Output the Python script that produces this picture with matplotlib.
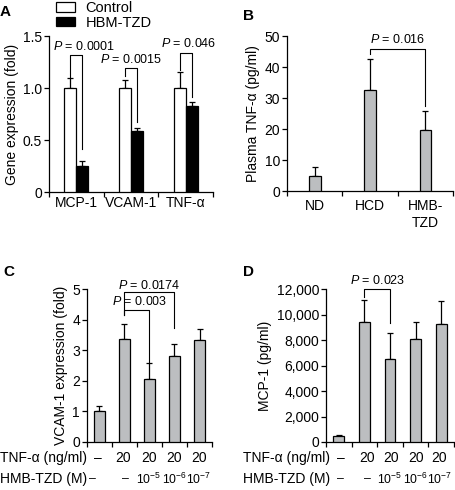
import matplotlib
matplotlib.use('Agg')
import matplotlib.pyplot as plt
import numpy as np

plt.rcParams['font.family'] = ['Liberation Sans', 'DejaVu Sans']
plt.rcParams['mathtext.fontset'] = 'custom'
plt.rcParams['mathtext.rm'] = 'Liberation Sans'
plt.rcParams['mathtext.it'] = 'Liberation Sans:italic'
plt.rcParams['axes.linewidth'] = 0.9
plt.rcParams['xtick.direction'] = 'out'
plt.rcParams['ytick.direction'] = 'out'

# panel A data
genes = ['MCP-1', 'VCAM-1', 'TNF-α']
ctrl_mean = [1.0, 1.0, 1.0]
ctrl_err = [0.10, 0.08, 0.15]
hbm_mean = [0.25, 0.59, 0.83]
hbm_err = [0.05, 0.03, 0.04]
pvals_a = ['0.0001', '0.0015', '0.046']

# panel B data
groups_b = ['ND', 'HCD', 'HMB-\nTZD']
tnf_mean = [4.8, 32.5, 19.8]
tnf_err = [3.0, 10.0, 6.0]

# panel C data
vcam_mean = [1.02, 3.38, 2.05, 2.80, 3.33]
vcam_err = [0.15, 0.48, 0.52, 0.42, 0.35]

# panel D data
mcp_mean = [480, 9400, 6500, 8100, 9250]
mcp_err = [80, 1750, 2050, 1300, 1850]

tnf_row = ['–', '20', '20', '20', '20']
hmb_row = ['–', '–', r'$\mathregular{10^{-5}}$', r'$\mathregular{10^{-6}}$', r'$\mathregular{10^{-7}}$']

GRAY = '#bcbec0'
FS = 10
PFS = 9

fig = plt.figure(figsize=(4.55, 4.9), dpi=100)


def style(ax):
    ax.spines['top'].set_visible(False)
    ax.spines['right'].set_visible(False)
    ax.tick_params(axis='both', labelsize=FS, length=3.5, width=0.9, pad=1.5)
    ax.tick_params(axis='x', which='minor', length=0, pad=3)


def bracket(ax, x1, x2, yh, y1, y2, label, tx=None, ty=None):
    ax.plot([x1, x1, x2, x2], [y1, yh, yh, y2], color='black', lw=0.8, clip_on=False)
    if tx is None:
        tx = (x1 + x2) / 2
    ax.text(tx, ty, r'$\it{P}$ = ' + label, ha='center', va='center', fontsize=PFS)


def bars(ax, x, mean, err, width, color, edge='black'):
    ax.bar(x, mean, width, color=color, edgecolor=edge, linewidth=0.9, zorder=3)
    ax.errorbar(x, mean, yerr=[np.zeros(len(err)), err], fmt='none', ecolor='black',
                elinewidth=0.9, capsize=2.5, capthick=0.9, zorder=2)


# ---- A ----
axA = fig.add_axes([0.1077, 0.608, 0.3605, 0.3185])
xa = np.arange(3)
bars(axA, xa - 0.11, ctrl_mean, ctrl_err, 0.22, 'white')
bars(axA, xa + 0.11, hbm_mean, hbm_err, 0.22, 'black')
axA.set_xlim(-0.5, 2.5)
axA.set_ylim(0, 1.5)
axA.set_yticks([0, 0.5, 1.0, 1.5])
axA.set_yticklabels(['0', '0.5', '1.0', '1.5'])
axA.set_xticks([-0.5, 0.5, 1.5, 2.5])
axA.set_xticklabels([])
axA.set_xticks(xa, minor=True)
axA.set_xticklabels(genes, minor=True)
style(axA)
axA.tick_params(axis='x', which='minor', labelsize=FS)
axA.set_ylabel('Gene expression (fold)', fontsize=FS, labelpad=3)
bracket(axA, -0.11, 0.11, 1.317, 1.108, 0.41, pvals_a[0], tx=0.14, ty=1.40)
bracket(axA, 0.89, 1.11, 1.19, 1.12, 0.67, pvals_a[1], tx=1.0, ty=1.27)
bracket(axA, 1.89, 2.11, 1.333, 1.17, 0.915, pvals_a[2], tx=2.05, ty=1.43)
axA.legend(handles=[
    plt.Rectangle((0, 0), 1, 1, fc='white', ec='black', lw=0.9),
    plt.Rectangle((0, 0), 1, 1, fc='black', ec='black', lw=0.9)],
    labels=['Control', 'HBM-TZD'],
    loc='lower left', bbox_to_anchor=(0.045, 1.04), frameon=False, fontsize=10.5,
    handlelength=1.25, handleheight=0.6, handletextpad=0.75, labelspacing=0.05,
    borderpad=0.0, borderaxespad=0)

# ---- B ----
axB = fig.add_axes([0.631, 0.610, 0.3646, 0.3165])
xb = np.arange(3)
bars(axB, xb, tnf_mean, tnf_err, 0.21, GRAY)
axB.set_xlim(-0.5, 2.5)
axB.set_ylim(0, 50)
axB.set_yticks([0, 10, 20, 30, 40, 50])
axB.set_xticks([-0.5, 0.5, 1.5, 2.5])
axB.set_xticklabels([])
axB.set_xticks(xb, minor=True)
axB.set_xticklabels(groups_b, minor=True)
style(axB)
axB.tick_params(axis='x', which='minor', labelsize=FS, pad=6)
axB.set_ylabel('Plasma TNF-α (pg/ml)', fontsize=FS, labelpad=3)
bracket(axB, 1, 2, 45.7, 44.3, 27.4, '0.016', ty=49.0)

# ---- C and D ----
def dose_panel(rect, mean, err, ylim, yticks, yticklabels, ylabel, width):
    ax = fig.add_axes(rect)
    x = np.arange(5)
    bars(ax, x, mean, err, width, GRAY)
    ax.set_xlim(-0.5, 4.5)
    ax.set_ylim(*ylim)
    ax.set_yticks(yticks)
    ax.set_yticklabels(yticklabels)
    ax.set_xticks(np.arange(-0.5, 5, 1))
    ax.set_xticklabels([])
    style(ax)
    ax.set_ylabel(ylabel, fontsize=FS, labelpad=3)
    return ax


axC = dose_panel([0.191, 0.098, 0.275, 0.312], vcam_mean, vcam_err, (0, 5),
                 [0, 1, 2, 3, 4, 5], ['0', '1', '2', '3', '4', '5'],
                 'VCAM-1 expression (fold)', 0.44)
bracket(axC, 1, 3, 4.89, 4.15, 3.74, '0.0174', ty=5.13)
bracket(axC, 1, 2, 4.33, 4.15, 2.57, '0.003', tx=1.6, ty=4.58)

axD = dose_panel([0.7165, 0.098, 0.2815, 0.312], mcp_mean, mcp_err, (0, 12000),
                 np.arange(0, 12001, 2000),
                 ['0', '2,000', '4,000', '6,000', '8,000', '10,000', '12,000'],
                 'MCP-1 (pg/ml)', 0.42)
bracket(axD, 1, 2, 12000, 11400, 9300, '0.023', ty=12700)

# dose rows under C and D
row_y1 = 1 - 458 / 490
row_y2 = 1 - 479 / 490
rows = [
    (axC, 0.0, [-0.08, 0.95, 1.98, 2.98, 3.98], [-0.26, 1.05, 1.98, 2.99, 3.98]),
    (axD, 243 / 455, [0.08, 1.1, 2.05, 3.0, 3.93], [0.08, 1.1, 2.0, 2.98, 3.94]),
]
for ax, lx, p1, p2 in rows:
    fig.text(lx, row_y1, 'TNF-α (ng/ml)', fontsize=FS, va='center', ha='left')
    fig.text(lx, row_y2, 'HMB-TZD (M)', fontsize=FS, va='center', ha='left')
    tr = matplotlib.transforms.blended_transform_factory(ax.transData, fig.transFigure)
    for xp, s in zip(p1, tnf_row):
        ax.text(xp, row_y1, s, transform=tr, fontsize=FS, ha='center', va='center')
    for xp, s in zip(p2, hmb_row):
        ax.text(xp, row_y2, s, transform=tr, fontsize=8.8, ha='center', va='center')

# panel letters
for lx, ly, s in [(0.0, 0.975, 'A'), (0.534, 0.968, 'B'), (0.008, 0.445, 'C'), (0.534, 0.445, 'D')]:
    fig.text(lx, ly, s, fontsize=11, fontweight='bold', va='center', ha='left')

fig.savefig('out.png', dpi=100)
